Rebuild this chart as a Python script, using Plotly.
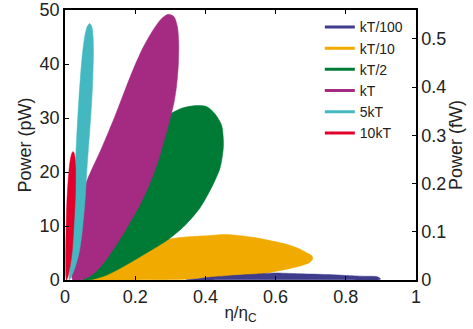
import plotly.graph_objects as go

# Power-efficiency loops for several thermal-energy scales.
# Each loop is listed as a closed outline: x = eta/eta_C, y = power.
labels = ["kT/100", "kT/10", "kT/2", "kT", "5kT", "10kT"]
colors = ["#403c8c", "#f1aa00", "#007b35", "#a52a82", "#44b8c1", "#e1002b"]

# kT/100 (power in fW, right axis)
eff_kt100 = [0.345, 0.38, 0.42, 0.47, 0.52, 0.57, 0.60, 0.65, 0.70, 0.75, 0.80, 0.85, 0.89, 0.899,
             0.895, 0.80, 0.70, 0.60, 0.50, 0.42, 0.36]
pow_kt100 = [0.0, 0.0028, 0.0062, 0.0090, 0.0112, 0.0134, 0.0146, 0.0134, 0.0123, 0.0112, 0.0095, 0.0078,
             0.0067, 0.0022, 0.0006, 0.0004, 0.0004, 0.0004, 0.0003, 0.0002, 0.0]

# kT/10 (pW)
eff_kt10 = [0.05, 0.10, 0.16, 0.22, 0.29, 0.35, 0.404, 0.442, 0.48, 0.536, 0.584, 0.632, 0.670, 0.690,
            0.703, 0.706, 0.700, 0.685, 0.660, 0.632, 0.584, 0.537, 0.442, 0.35, 0.25, 0.15]
pow_kt10 = [0.0, 2.2, 4.5, 6.2, 7.5, 8.0, 8.2, 8.4, 8.35, 7.9, 7.3, 6.6, 5.7, 5.0,
            4.5, 4.0, 3.4, 2.9, 2.4, 2.0, 1.4, 0.9, 0.4, 0.15, 0.05, 0.0]

# kT/2 (pW)
eff_kt2 = [0.05, 0.08, 0.12, 0.17, 0.22, 0.26, 0.29, 0.309, 0.337, 0.375, 0.404, 0.427, 0.446, 0.451,
           0.451, 0.442, 0.422, 0.385, 0.337, 0.290, 0.250, 0.214, 0.180, 0.147, 0.118, 0.090, 0.065]
pow_kt2 = [0.0, 2.0, 6.0, 12.0, 19.0, 25.0, 30.2, 31.1, 31.9, 32.3, 32.1, 30.8, 28.7, 26.2,
           24.4, 20.8, 17.7, 13.4, 9.8, 7.3, 5.7, 4.3, 3.0, 1.8, 0.9, 0.3, 0.0]

# kT (pW)
eff_kt = [0.022, 0.024, 0.032, 0.045, 0.062, 0.080, 0.100, 0.125, 0.147, 0.170, 0.195, 0.222, 0.252, 0.275,
          0.294, 0.310, 0.320, 0.324, 0.323, 0.318, 0.311, 0.302, 0.292, 0.280, 0.268, 0.252, 0.235,
          0.214, 0.190, 0.166, 0.142, 0.119, 0.095, 0.071, 0.045]
pow_kt = [0.0, 5.0, 10.5, 14.8, 18.3, 21.0, 23.8, 27.6, 31.1, 35.0, 39.1, 43.0, 46.4, 48.4,
          49.2, 48.8, 47.0, 44.0, 40.0, 36.0, 33.0, 30.5, 28.0, 25.3, 22.6, 19.6, 16.9,
          14.0, 11.2, 8.5, 6.1, 3.9, 2.0, 0.7, 0.0]

# 5kT (pW)
eff_5kt = [0.012, 0.016, 0.021, 0.027, 0.033, 0.039, 0.045, 0.050, 0.056, 0.063, 0.070, 0.076, 0.080,
           0.081, 0.079, 0.076, 0.071, 0.066, 0.061, 0.057, 0.049, 0.040, 0.028, 0.018]
pow_5kt = [0.0, 4.0, 10.0, 18.0, 26.0, 33.0, 38.5, 42.1, 45.0, 46.9, 47.5, 47.0, 45.0,
           42.0, 37.0, 33.0, 28.0, 23.8, 19.0, 14.7, 9.0, 5.0, 2.2, 0.6]

# 10kT (pW)
eff_10kt = [0.004, 0.002, 0.003, 0.005, 0.009, 0.014, 0.019, 0.023, 0.027, 0.030, 0.030, 0.029,
            0.024, 0.020, 0.014, 0.008]
pow_10kt = [0.0, 4.0, 9.0, 14.0, 18.5, 21.8, 23.4, 23.8, 23.3, 21.0, 17.0, 14.7,
            8.6, 5.0, 2.4, 0.5]

loops = [
    (eff_kt100, pow_kt100, "y2"),
    (eff_kt10, pow_kt10, "y"),
    (eff_kt2, pow_kt2, "y"),
    (eff_kt, pow_kt, "y"),
    (eff_5kt, pow_5kt, "y"),
    (eff_10kt, pow_10kt, "y"),
]

x_ticks = [0, 0.2, 0.4, 0.6, 0.8, 1]
x_ticktext = ["0", "0.2", "0.4", "0.6", "0.8", "1"]
y_ticks = [0, 10, 20, 30, 40, 50]
y2_ticks = [0, 0.1, 0.2, 0.3, 0.4, 0.5]
y2_ticktext = ["0", "0.1", "0.2", "0.3", "0.4", "0.5"]

FONT = "Liberation Sans, Arial, sans-serif"
TXT = "#222222"

fig = go.Figure()

# filled loops, later series drawn on top
for (xs, ys, ax), col in zip(loops, colors):
    fig.add_trace(go.Scatter(
        x=xs + xs[:1], y=ys + ys[:1], yaxis=ax,
        mode="lines", fill="toself", fillcolor=col,
        line=dict(color=col, width=0.5, shape="spline", smoothing=0.8),
        showlegend=False, hoverinfo="skip",
    ))

# line-style legend entries
for name, col in zip(labels, colors):
    fig.add_trace(go.Scatter(
        x=[None], y=[None], mode="lines", name=name,
        line=dict(color=col, width=3),
    ))

axis_common = dict(
    showline=True, linecolor="black", linewidth=1.5,
    ticks="inside", ticklen=4, tickwidth=1.2, tickcolor="black",
    showgrid=False, zeroline=False, automargin=False,
    ticklabeloverflow="allow",
    tickfont=dict(family=FONT, size=18, color=TXT),
)

fig.update_layout(
    width=473, height=329,
    margin=dict(l=65, r=57, t=10, b=49, autoexpand=False),
    paper_bgcolor="white", plot_bgcolor="white",
    font=dict(family=FONT, color=TXT),
    xaxis=dict(
        range=[0, 1], tickvals=x_ticks, ticktext=x_ticktext, mirror="ticks",
        title=dict(text="η/η<sub>C</sub>", font=dict(family=FONT, size=17, color=TXT), standoff=0),
        **axis_common,
    ),
    yaxis=dict(
        range=[0, 50], tickvals=y_ticks,
        title=dict(text="Power (pW)", font=dict(family=FONT, size=18, color=TXT), standoff=3),
        **axis_common,
    ),
    yaxis2=dict(
        range=[0, 0.5597], tickvals=y2_ticks, ticktext=y2_ticktext,
        overlaying="y", side="right",
        title=dict(text="Power (fW)", font=dict(family=FONT, size=18, color=TXT), standoff=0),
        **axis_common,
    ),
    legend=dict(
        x=0.726, y=0.995, xanchor="left", yanchor="top",
        bgcolor="rgba(0,0,0,0)", borderwidth=0,
        font=dict(family=FONT, size=14, color=TXT),
        tracegroupgap=0,
    ),
    showlegend=True,
)

fig.write_html("out.html")
